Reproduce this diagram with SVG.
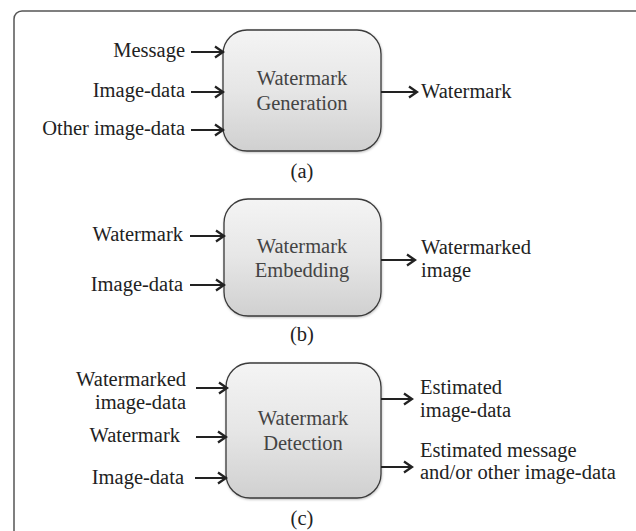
<svg xmlns="http://www.w3.org/2000/svg" width="636" height="531" viewBox="0 0 636 531" font-family="'Liberation Serif', 'Times New Roman', serif">
<defs>
<linearGradient id="g" x1="0" y1="0" x2="0" y2="1">
<stop offset="0" stop-color="#f4f4f4"/>
<stop offset="0.5" stop-color="#e6e6e6"/>
<stop offset="1" stop-color="#d0d0d0"/>
</linearGradient>
<marker id="ah" viewBox="0 0 14 14" refX="12" refY="7" markerWidth="14" markerHeight="14" markerUnits="userSpaceOnUse" orient="auto">
<path d="M4,1.5 L12,7 L4,12.5" fill="none" stroke="#222" stroke-width="2.3" stroke-linejoin="miter"/>
</marker>
<filter id="sh" x="-10%" y="-10%" width="120%" height="120%">
<feDropShadow dx="0.5" dy="1" stdDeviation="0.8" flood-color="#000" flood-opacity="0.25"/>
</filter>
</defs>
<style>
text{font-size:20.5px;fill:#222}
.box{fill:url(#g);stroke:#3a3a3a;stroke-width:1.3;filter:url(#sh)}
.bt{fill:#444;text-anchor:middle}
.r{text-anchor:end}
.c{text-anchor:middle}
.ar{stroke:#222;stroke-width:2;fill:none;marker-end:url(#ah)}
</style>
<rect x="14" y="11" width="630" height="560" rx="8" fill="#fff" stroke="#555" stroke-width="1.5"/>

<g id="gen">
<rect class="box" x="223" y="30" width="158" height="121" rx="24"/>
<text class="bt" x="302" y="85">Watermark</text>
<text class="bt" x="302" y="110">Generation</text>
</g>
<g id="emb">
<rect class="box" x="224" y="199" width="157" height="117" rx="24"/>
<text class="bt" x="302" y="253">Watermark</text>
<text class="bt" x="302" y="277">Embedding</text>
</g>
<g id="det">
<rect class="box" x="226" y="363" width="155" height="135" rx="24"/>
<text class="bt" x="303" y="425">Watermark</text>
<text class="bt" x="303" y="450">Detection</text>
</g>

<g id="labels">
<text class="r" x="185" y="57">Message</text>
<text class="r" x="185" y="97">Image-data</text>
<text class="r" x="185" y="135">Other image-data</text>
<text x="421" y="98">Watermark</text>
<text class="c" x="302" y="178">(a)</text>

<text class="r" x="183" y="241">Watermark</text>
<text class="r" x="183" y="291">Image-data</text>
<text x="421" y="254">Watermarked</text>
<text x="421" y="277">image</text>
<text class="c" x="302" y="341">(b)</text>

<text class="r" x="186" y="386">Watermarked</text>
<text class="r" x="186" y="409">image-data</text>
<text class="r" x="180" y="442">Watermark</text>
<text class="r" x="184" y="484">Image-data</text>
<text x="420" y="394">Estimated</text>
<text x="420" y="417">image-data</text>
<text x="420" y="457">Estimated message</text>
<text x="420" y="479">and/or other image-data</text>
<text class="c" x="302" y="525">(c)</text>
</g>

<g id="connectors">
<line class="ar" x1="191" y1="52" x2="223" y2="52"/>
<line class="ar" x1="191" y1="92" x2="223" y2="92"/>
<line class="ar" x1="191" y1="130" x2="223" y2="130"/>
<line class="ar" x1="381" y1="92" x2="417" y2="92"/>

<line class="ar" x1="190" y1="236" x2="224" y2="236"/>
<line class="ar" x1="190" y1="285" x2="224" y2="285"/>
<line class="ar" x1="381" y1="260" x2="415" y2="260"/>

<line class="ar" x1="196" y1="388" x2="227" y2="388"/>
<line class="ar" x1="196" y1="437" x2="226" y2="437"/>
<line class="ar" x1="195" y1="478" x2="226" y2="478"/>
<line class="ar" x1="381" y1="399" x2="412" y2="399"/>
<line class="ar" x1="381" y1="467" x2="412" y2="467"/>
</g>
</svg>
